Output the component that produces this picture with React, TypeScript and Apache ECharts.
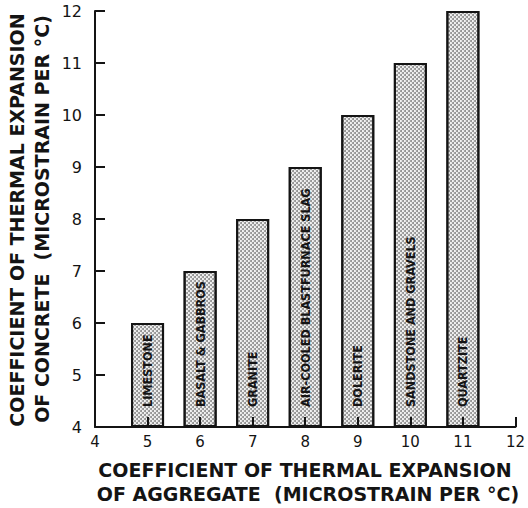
import React, { useEffect, useRef } from "react";
import * as echarts from "echarts";

// Aggregate type, its expansion coefficient (x) and the resulting concrete coefficient (y)
const aggregates = [
  "LIMESTONE",
  "BASALT & GABBROS",
  "GRANITE",
  "AIR-COOLED BLASTFURNACE SLAG",
  "DOLERITE",
  "SANDSTONE AND GRAVELS",
  "QUARTZITE",
];
const aggregateCoeff = [5, 6, 7, 8, 9, 10, 11];
const concreteCoeff = [6, 7, 8, 9, 10, 11, 12];

const xTitle = ["COEFFICIENT OF THERMAL EXPANSION", "OF AGGREGATE  (MICROSTRAIN PER °C)"];
const yTitle = ["COEFFICIENT OF THERMAL EXPANSION", "OF CONCRETE  (MICROSTRAIN PER °C)"];

const FONT = "DejaVu Sans";
const NARROW = '"DejaVu Sans Condensed", "Liberation Sans Narrow", "DejaVu Sans"';
const INK = "#141414";

export default function App() {
  const ref = useRef<HTMLDivElement>(null);

  useEffect(() => {
    if (!ref.current) return;
    const chart = echarts.init(ref.current, undefined, { renderer: "svg" });

    const data = aggregateCoeff.map((x, i) => ({
      name: aggregates[i],
      value: [x, concreteCoeff[i]],
    }));

    const axisCommon = {
      type: "value" as const,
      min: 4,
      max: 12,
      interval: 1,
      z: 5,
      splitLine: { show: false },
      axisLine: { show: true, lineStyle: { color: INK, width: 2 } },
      axisTick: { show: true, inside: true, length: 10, lineStyle: { color: INK, width: 2 } },
    };

    const titleFont = `bold 19px "${FONT}"`;

    chart.setOption({
      animation: false,
      backgroundColor: "#ffffff",
      grid: { left: 95, right: 11, top: 11, bottom: 81, containLabel: false },
      xAxis: {
        ...axisCommon,
        axisLabel: { color: INK, fontFamily: FONT, fontSize: 15, margin: 7 },
      },
      yAxis: {
        ...axisCommon,
        startValue: 4,
        axisLabel: { color: INK, fontFamily: FONT, fontSize: 16, margin: 13 },
      },
      series: [
        {
          type: "bar",
          data,
          barWidth: 33,
          itemStyle: {
            color: "#f2f2f2",
            borderColor: INK,
            borderWidth: 2,
            decal: {
              symbol: "circle",
              symbolSize: 1,
              color: "rgba(70,70,70,0.6)",
              dashArrayX: [[2, 2], [0, 2, 2, 0]],
              dashArrayY: [2, 0],
            },
          },
          label: {
            show: true,
            position: "insideBottom",
            distance: 20,
            rotate: 90,
            align: "left",
            verticalAlign: "middle",
            formatter: (p: any) => aggregates[p.dataIndex],
            color: INK,
            fontFamily: NARROW,
            fontWeight: "bold",
            fontSize: 12.5,
          },
        },
      ],
      graphic: [
        {
          type: "text",
          x: 305,
          y: 470,
          style: { text: xTitle[0], fill: INK, font: titleFont, align: "center", verticalAlign: "middle" },
        },
        {
          type: "text",
          x: 308,
          y: 494,
          style: { text: xTitle[1], fill: INK, font: titleFont, align: "center", verticalAlign: "middle" },
        },
        {
          type: "text",
          x: 17,
          y: 220,
          rotation: Math.PI / 2,
          style: { text: yTitle[0], fill: INK, font: titleFont, align: "center", verticalAlign: "middle" },
        },
        {
          type: "text",
          x: 42,
          y: 219,
          rotation: Math.PI / 2,
          style: { text: yTitle[1], fill: INK, font: titleFont, align: "center", verticalAlign: "middle" },
        },
      ],
    });

    return () => chart.dispose();
  }, []);

  return <div ref={ref} style={{ width: 528, height: 508, position: "absolute", left: 0, top: 0 }} />;
}
